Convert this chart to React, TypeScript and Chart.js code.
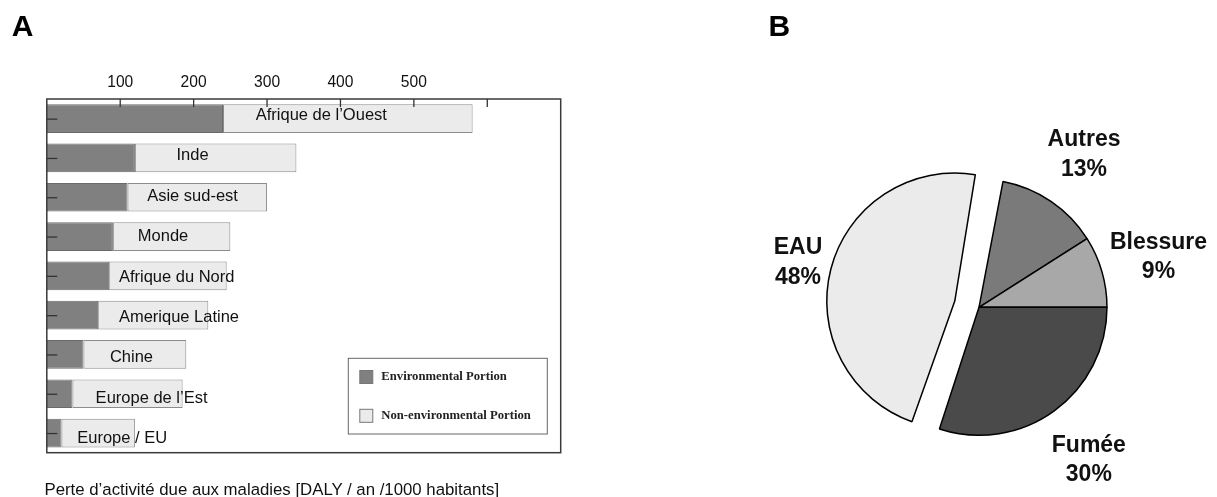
import React, { useEffect, useRef } from "react";
import { Chart, registerables } from "chart.js";

Chart.register(...registerables);

// ---- Panel A data ----
const regions = [
  "Afrique de l’Ouest",
  "Inde",
  "Asie sud-est",
  "Monde",
  "Afrique du Nord",
  "Amerique Latine",
  "Chine",
  "Europe de l’Est",
  "Europe / EU",
];
const envValues = [240, 120, 110, 90, 85, 70, 50, 35, 20];
const nonEnvValues = [340, 220, 190, 160, 160, 150, 140, 150, 100];
// axis value where each region's name starts (inside its bar)
const labelStartValues = [284.6, 176.7, 136.7, 124, 98.2, 98.2, 86, 66.5, 41.5];
const xTickLabels = [100, 200, 300, 400, 500];
const legendLabels = ["Environmental Portion", "Non-environmental Portion"];
const xCaption = "Perte d’activité due aux maladies [DALY / an /1000 habitants]";

// ---- Panel B data ----
const causes = ["Autres", "Blessure", "Fumée", "EAU"];
const causeShares = [13, 9, 30, 48];

const SANS = '"Liberation Sans", Arial, sans-serif';
const SERIF = '"Liberation Serif", "Times New Roman", serif';
const ENV_COLOR = "#808080";
const NONENV_COLOR = "#ebebeb";

const barDecor = {
  id: "barDecor",
  afterDatasetsDraw(chart: any) {
    const ctx = chart.ctx;
    const xs = chart.scales.x;
    const ys = chart.scales.y;
    ctx.save();
    ctx.fillStyle = "#111";
    ctx.font = `16.5px ${SANS}`;
    ctx.textAlign = "left";
    ctx.textBaseline = "alphabetic";
    regions.forEach((name, i) => {
      const x = xs.getPixelForValue(labelStartValues[i]);
      const y = ys.getPixelForValue(i) + 1.3 + i * 1.12;
      ctx.fillText(name, x, y);
    });
    ctx.restore();
  },
  afterDraw(chart: any) {
    const ctx = chart.ctx;
    const a = chart.chartArea;
    const xs = chart.scales.x;
    const ys = chart.scales.y;
    ctx.save();
    // frame
    ctx.strokeStyle = "#3a3a3a";
    ctx.lineWidth = 1.5;
    ctx.strokeRect(a.left, a.top, a.right - a.left, a.bottom - a.top);
    // inward ticks on top axis
    ctx.lineWidth = 1.3;
    ctx.strokeStyle = "#333";
    xs.ticks.forEach((t: any) => {
      if (t.value <= xs.min || t.value >= xs.max) return;
      const px = xs.getPixelForValue(t.value);
      ctx.beginPath();
      ctx.moveTo(px, a.top);
      ctx.lineTo(px, a.top + 8);
      ctx.stroke();
    });
    // inward ticks on left axis
    regions.forEach((_, i) => {
      const py = ys.getPixelForValue(i) + 0.5;
      ctx.beginPath();
      ctx.moveTo(a.left, py);
      ctx.lineTo(a.left + 10.5, py);
      ctx.stroke();
    });
    // legend box
    const lw = 199;
    const lh = 75.7;
    const lx = a.right - 13.4 - lw;
    const ly = a.bottom - 18.7 - lh;
    ctx.fillStyle = "#fff";
    ctx.fillRect(lx, ly, lw, lh);
    ctx.strokeStyle = "#666";
    ctx.lineWidth = 1;
    ctx.strokeRect(lx, ly, lw, lh);
    const colors = [ENV_COLOR, NONENV_COLOR];
    ctx.font = `bold 12.7px ${SERIF}`;
    ctx.textBaseline = "middle";
    ctx.textAlign = "left";
    legendLabels.forEach((lab, i) => {
      const cy = ly + 18.7 + i * 38.8;
      ctx.fillStyle = colors[i];
      ctx.fillRect(lx + 11.5, cy - 6.5, 13, 13);
      ctx.strokeStyle = "#777";
      ctx.strokeRect(lx + 11.5, cy - 6.5, 13, 13);
      ctx.fillStyle = "#222";
      ctx.fillText(lab, lx + 33, cy);
    });
    ctx.restore();
  },
};

const pieDecor = {
  id: "pieDecor",
  // keep the exploded slice at the same radius as the others
  beforeDatasetsDraw(chart: any) {
    const meta = chart.getDatasetMeta(0);
    const baseR = meta.controller.outerRadius;
    meta.data.forEach((arc: any) => {
      const off = (arc.options && arc.options.offset) || 0;
      if (off) {
        const fix = 1 - Math.sin(Math.min(Math.PI, arc.circumference || 0));
        arc.outerRadius = baseR - (off / 4) * fix;
      }
    });
  },
  afterDraw(chart: any) {
    const ctx = chart.ctx;
    const meta = chart.getDatasetMeta(0);
    const baseR = meta.controller.outerRadius;
    ctx.save();
    ctx.fillStyle = "#111";
    ctx.font = `bold 23px ${SANS}`;
    ctx.textAlign = "center";
    ctx.textBaseline = "alphabetic";
    meta.data.forEach((arc: any, i: number) => {
      const mid = (arc.startAngle + arc.endAngle) / 2;
      const d = baseR * 1.46;
      const cx = arc.x + Math.cos(mid) * d;
      const cy = arc.y + Math.sin(mid) * d;
      ctx.fillText(causes[i], cx, cy - 6.45);
      ctx.fillText(`${causeShares[i]}%`, cx, cy + 22.95);
    });
    ctx.restore();
  },
};

export default function App() {
  const barRef = useRef<HTMLCanvasElement>(null);
  const pieRef = useRef<HTMLCanvasElement>(null);

  useEffect(() => {
    const bar = new Chart(barRef.current as HTMLCanvasElement, {
      type: "bar",
      data: {
        labels: regions,
        datasets: [
          {
            label: legendLabels[0],
            data: envValues,
            backgroundColor: ENV_COLOR,
            borderColor: "#6a6a6a",
            borderWidth: 1,
            borderSkipped: false,
          },
          {
            label: legendLabels[1],
            data: nonEnvValues,
            backgroundColor: NONENV_COLOR,
            borderColor: "#8c8c8c",
            borderWidth: 1,
            borderSkipped: false,
          },
        ],
      },
      options: {
        indexAxis: "y",
        responsive: false,
        animation: false,
        devicePixelRatio: 1,
        layout: { padding: { left: 46.8, right: 39.3, top: 69, bottom: 44.3 } },
        datasets: { bar: { barPercentage: 0.73, categoryPercentage: 1 } },
        plugins: { legend: { display: false }, tooltip: { enabled: false } },
        scales: {
          x: {
            position: "top",
            stacked: true,
            min: 0,
            max: 700,
            grid: { display: false, drawTicks: false },
            border: { display: false },
            ticks: {
              stepSize: 100,
              padding: 6.5,
              color: "#111",
              font: { family: SANS, size: 15.6 },
              maxRotation: 0,
              autoSkip: false,
              callback: (v: any) => (xTickLabels.includes(Number(v)) ? String(v) : ""),
            },
            afterFit: (s: any) => {
              s.height = 30;
            },
          },
          y: { stacked: true, display: false },
        },
      },
      plugins: [barDecor],
    });

    const pie = new Chart(pieRef.current as HTMLCanvasElement, {
      type: "pie",
      data: {
        labels: causes,
        datasets: [
          {
            data: causeShares,
            backgroundColor: ["#7a7a7a", "#a8a8a8", "#4a4a4a", "#ebebeb"],
            borderColor: "#000",
            borderWidth: 1.5,
            offset: [0, 0, 0, 100],
          },
        ],
      },
      options: {
        responsive: false,
        animation: false,
        devicePixelRatio: 1,
        rotation: 10.8,
        radius: 128,
        layout: { padding: { left: 2, right: 0, top: 117.6, bottom: 0 } },
        plugins: { legend: { display: false }, tooltip: { enabled: false } },
      } as any,
      plugins: [pieDecor],
    });

    return () => {
      bar.destroy();
      pie.destroy();
    };
  }, []);

  const letter: React.CSSProperties = {
    position: "absolute",
    top: 11.1,
    fontFamily: SANS,
    fontWeight: "bold",
    fontSize: 30,
    lineHeight: "30px",
    color: "#000",
    margin: 0,
  };

  return (
    <div
      style={{
        position: "fixed",
        left: 0,
        top: 0,
        width: 1217,
        height: 497,
        background: "#fff",
        overflow: "hidden",
      }}
    >
      <canvas
        ref={barRef}
        width={600}
        height={497}
        style={{ position: "absolute", left: 0, top: 0 }}
      />
      <canvas
        ref={pieRef}
        width={478}
        height={497}
        style={{ position: "absolute", left: 739, top: 0 }}
      />
      <div style={{ ...letter, left: 11.7 }}>A</div>
      <div style={{ ...letter, left: 768.5 }}>B</div>
      <div
        style={{
          position: "absolute",
          left: 44.5,
          top: 481,
          fontFamily: SANS,
          fontSize: 16.8,
          lineHeight: "18px",
          color: "#111",
          whiteSpace: "nowrap",
        }}
      >
        {xCaption}
      </div>
    </div>
  );
}
